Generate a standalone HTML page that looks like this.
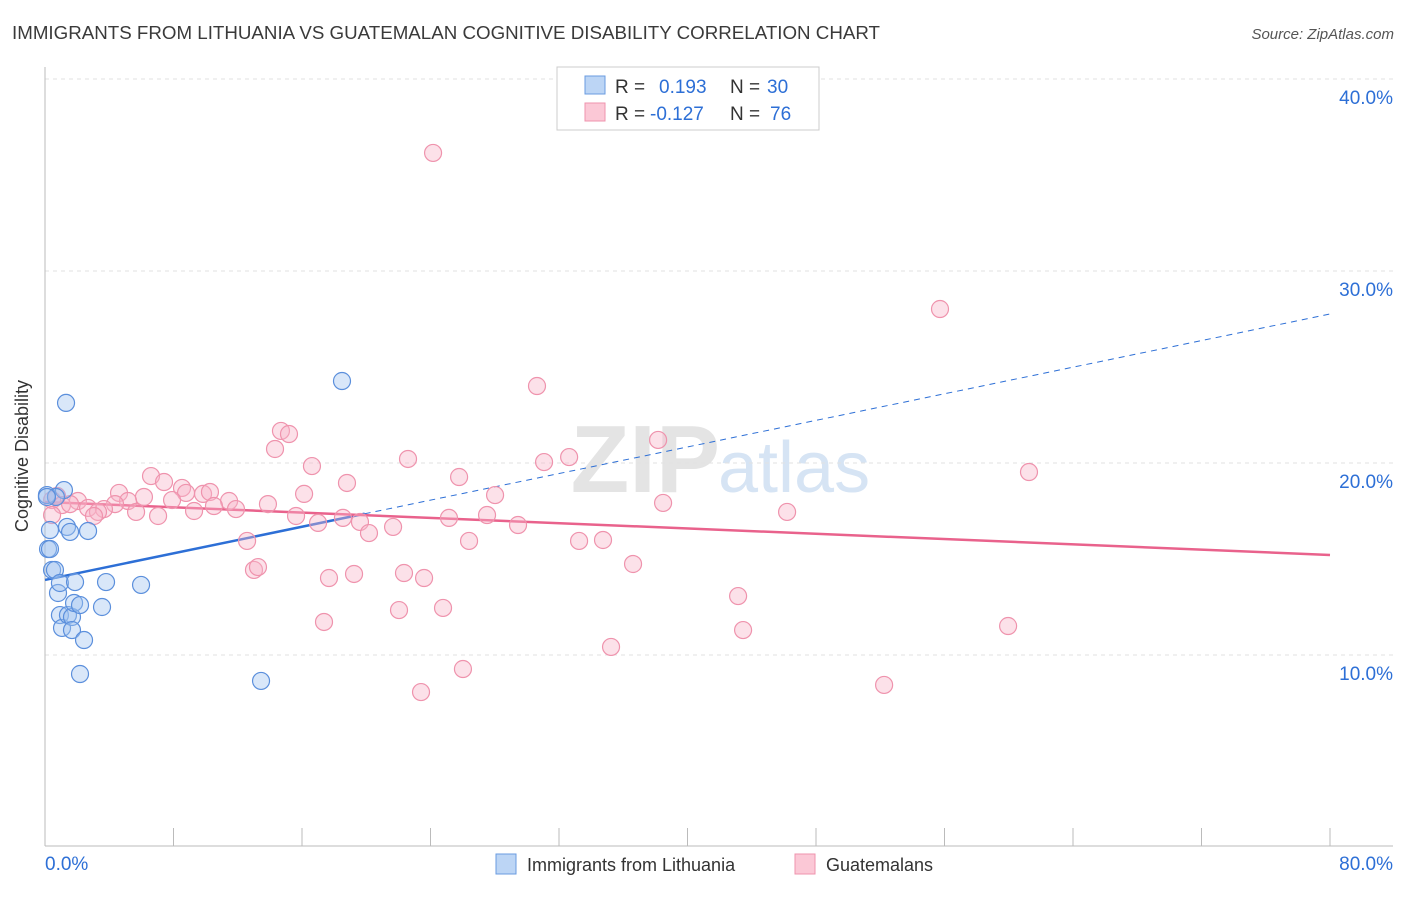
<!DOCTYPE html>
<html><head><meta charset="utf-8"><style>
body{margin:0;background:#fff;font-family:"Liberation Sans",sans-serif;}
svg text{font-family:"Liberation Sans",sans-serif;}
</style></head><body>
<svg id="chart" width="1406" height="892" xmlns="http://www.w3.org/2000/svg">
<text x="12" y="39" font-size="18" fill="#3a3a3a" textLength="868" lengthAdjust="spacingAndGlyphs">IMMIGRANTS FROM LITHUANIA VS GUATEMALAN COGNITIVE DISABILITY CORRELATION CHART</text>
<text x="1394" y="39" font-size="15" fill="#555" font-style="italic" text-anchor="end">Source: ZipAtlas.com</text>
<text x="720" y="492" font-size="96" fill="#e4e4e4" text-anchor="end" font-family="Liberation Serif" font-weight="bold">ZIP</text>
<text x="718" y="492" font-size="72" fill="#d6e4f4">atlas</text>
<g id="grid"></g><g id="axes"></g><g id="lines"></g><g id="pts"></g>
<text x="28" y="456" font-size="18" fill="#333" transform="rotate(-90 28 456)" text-anchor="middle">Cognitive Disability</text>
<g>
<rect x="557" y="67" width="262" height="63" fill="#fff" stroke="#ccc"/>
<rect x="585" y="76" width="20" height="18" fill="#bcd5f5" stroke="#6a9be0"/>
<rect x="585" y="103" width="20" height="18" fill="#fbc8d6" stroke="#ef93ad"/>
<text x="615" y="93" font-size="19" fill="#333">R = </text><text x="659" y="93" font-size="19" fill="#2d6fd6">0.193</text>
<text x="730" y="93" font-size="19" fill="#333">N = </text><text x="767" y="93" font-size="19" fill="#2d6fd6">30</text>
<text x="615" y="120" font-size="19" fill="#333">R = </text><text x="650" y="120" font-size="19" fill="#2d6fd6">-0.127</text>
<text x="730" y="120" font-size="19" fill="#333">N = </text><text x="770" y="120" font-size="19" fill="#2d6fd6">76</text>
</g>
<g>
<rect x="496" y="854" width="20" height="20" fill="#bcd5f5" stroke="#6a9be0"/>
<text x="527" y="871" font-size="18" fill="#333">Immigrants from Lithuania</text>
<rect x="795" y="854" width="20" height="20" fill="#fbc8d6" stroke="#ef93ad"/>
<text x="826" y="871" font-size="18" fill="#333">Guatemalans</text>
</g>
</svg>
<script>
const yTicks=[10,20,30,40];
const xTickLabels=["0.0%","80.0%"];
const blueX=[0.12,0.31,0.19,0.31,0.44,0.62,0.81,0.93,0.93,1.06,1.31,1.18,1.37,1.56,1.43,1.68,1.68,1.87,1.81,2.18,2.43,2.18,2.68,3.55,3.80,5.98,13.45,18.49,0.68,0.12];
const blueY=[18.33,16.51,15.52,15.52,14.43,14.43,13.23,13.75,12.08,11.41,23.13,18.59,16.67,16.41,12.08,11.98,11.30,13.80,12.71,12.60,10.78,9.01,16.46,12.50,13.80,13.65,8.65,24.27,18.23,18.23];
const pinkX=[24.16,55.72,30.63,14.69,15.19,38.17,14.32,22.60,31.07,32.63,16.62,61.26,6.60,25.78,7.41,18.80,8.53,8.78,4.61,16.13,28.02,9.84,10.27,6.16,0.75,0.44,2.05,5.17,7.91,11.46,38.48,4.36,13.88,10.52,1.06,1.56,2.68,3.67,11.89,3.30,9.28,46.20,5.67,3.05,7.04,27.52,15.63,18.55,25.15,17.00,19.61,29.45,21.67,20.17,12.58,26.40,33.25,34.74,13.01,13.26,36.61,17.68,19.24,22.35,23.60,43.15,22.04,24.78,17.37,43.46,59.96,35.24,26.02,23.41,52.24,0.44];
const pinkY=[36.15,28.02,24.01,21.67,21.51,21.20,20.73,20.21,20.05,20.31,19.84,19.53,19.32,19.27,19.01,18.96,18.70,18.44,18.44,18.39,18.33,18.39,18.49,18.23,18.28,18.07,18.02,18.02,18.07,18.02,17.92,17.86,17.86,17.76,17.81,17.86,17.66,17.60,17.60,17.45,17.50,17.45,17.45,17.24,17.24,17.29,17.24,17.14,17.14,16.88,16.93,16.77,16.67,16.35,15.94,15.94,15.94,15.99,14.43,14.58,14.74,14.01,14.22,14.27,14.01,13.07,12.34,12.45,11.72,11.30,11.51,10.42,9.27,8.07,8.44,17.29];
const blueTrend=[13.91,27.76];
const pinkTrend=[17.97,15.21];
const blueSolidEnd=19.9;
const X=v=>45+v/80*1285, Y=v=>847-v*19.2;
const NS="http://www.w3.org/2000/svg";
function mk(tag,attrs,parent){const e=document.createElementNS(NS,tag);for(const k in attrs)e.setAttribute(k,attrs[k]);document.getElementById(parent).appendChild(e);return e;}
yTicks.forEach(t=>{
 const l=mk('line',{x1:45,x2:1393,y1:Y(t),y2:Y(t),stroke:'#e2e2e2','stroke-dasharray':'4,4'},'grid');
 
 
 const tx=mk('text',{x:1393,y:Y(t)+25,'font-size':19,fill:'#2d6fd6','text-anchor':'end'},'grid');
 tx.textContent=t.toFixed(1)+'%';
 
 
});
const ax=mk('line',{x1:45,x2:45,y1:67,y2:846,stroke:'#bbb'},'axes');


const bx=mk('line',{x1:45,x2:1393,y1:846,y2:846,stroke:'#bbb'},'axes');


for(let i=0;i<=10;i++){const t=mk('line',{x1:X(i*8),x2:X(i*8),y1:828,y2:846,stroke:'#bbb'},'axes');
 
 }
xTickLabels.forEach((s,i)=>{const t=mk('text',{x:i?1393:45,y:870,'font-size':19,fill:'#2d6fd6','text-anchor':i?'end':'start'},'axes');t.textContent=s;
 
 });
const by=x=>blueTrend[0]+(blueTrend[1]-blueTrend[0])*x/80;
let l1=mk('line',{x1:X(0),y1:Y(by(0)),x2:X(blueSolidEnd),y2:Y(by(blueSolidEnd)),stroke:'#2d6fd6','stroke-width':2.5},'lines');


let l2=mk('line',{x1:X(blueSolidEnd),y1:Y(by(blueSolidEnd)),x2:X(80),y2:Y(by(80)),stroke:'#2d6fd6','stroke-width':1,'stroke-dasharray':'6,5'},'lines');


let l3=mk('line',{x1:X(0),y1:Y(pinkTrend[0]),x2:X(80),y2:Y(pinkTrend[1]),stroke:'#e9628c','stroke-width':2.5},'lines');


pinkX.forEach((x,i)=>{const c=mk('circle',{cx:X(x),cy:Y(pinkY[i]),r:8.5,fill:'rgba(248,180,200,0.4)',stroke:'#ef93ad','stroke-width':1.2},'pts');
 
 });
blueX.forEach((x,i)=>{const c=mk('circle',{cx:X(x),cy:Y(blueY[i]),r:8.5,fill:'rgba(160,196,240,0.4)',stroke:'#5b8fdc','stroke-width':1.2},'pts');
 
 });
</script>
</body></html>
